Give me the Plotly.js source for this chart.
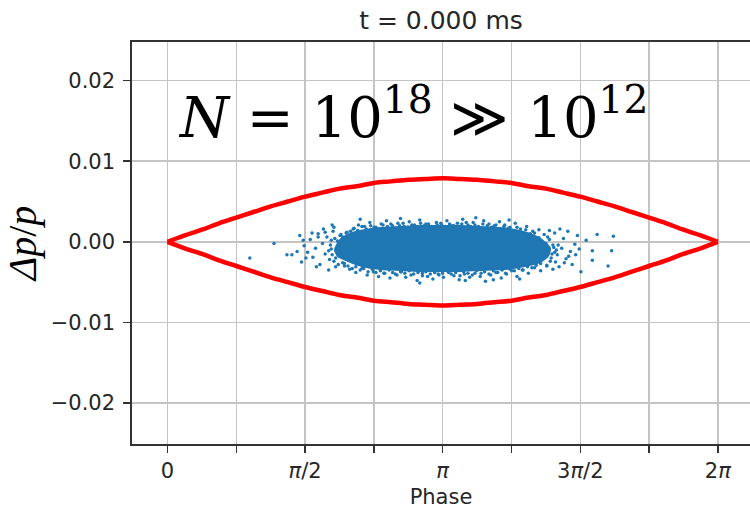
<!DOCTYPE html>
<html>
<head>
<meta charset="utf-8">
<script src="https://cdn.plot.ly/plotly-3.0.1.min.js"></script>
<style>
  html, body { margin: 0; padding: 0; background: #ffffff; }
  #chart { width: 750px; height: 509px; }
</style>
</head>
<body>
<div id="chart"></div>
<script>
// Separatrix of the stationary bucket (phase in rad, Δp/p)
const sepPhase = [0, 0.196, 0.393, 0.589, 0.785, 0.982, 1.178, 1.374, 1.571, 1.767, 1.963,
  2.160, 2.356, 2.553, 2.749, 2.945, 3.142, 3.338, 3.534, 3.731, 3.927, 4.123, 4.320,
  4.516, 4.712, 4.909, 5.105, 5.301, 5.498, 5.694, 5.890, 6.087, 6.283];
const sepUpper = [0, 0.0008, 0.0015, 0.0023, 0.0030, 0.0037, 0.0044, 0.0050, 0.0056, 0.0061,
  0.0066, 0.0069, 0.0073, 0.0075, 0.0077, 0.0078, 0.0079, 0.0078, 0.0077, 0.0075, 0.0073,
  0.0069, 0.0066, 0.0061, 0.0056, 0.0050, 0.0044, 0.0037, 0.0030, 0.0023, 0.0015, 0.0008, 0];
const sepLower = [0, -0.0008, -0.0015, -0.0023, -0.0030, -0.0037, -0.0044, -0.0050, -0.0056, -0.0061,
  -0.0066, -0.0069, -0.0073, -0.0075, -0.0077, -0.0078, -0.0079, -0.0078, -0.0077, -0.0075, -0.0073,
  -0.0069, -0.0066, -0.0061, -0.0056, -0.0050, -0.0044, -0.0037, -0.0030, -0.0023, -0.0015, -0.0008, 0];

// Dense core of the particle distribution (outline)
const coreX = [1.912, 1.969, 2.083, 2.255, 2.426, 2.654, 2.882, 3.111, 3.339, 3.567, 3.796, 3.967,
  4.138, 4.275, 4.366, 4.344, 4.252, 4.081, 3.853, 3.567, 3.339, 3.111, 2.882, 2.654, 2.426,
  2.220, 2.061, 1.946, 1.912];
const coreY = [-0.00102, 0.00022, 0.00097, 0.00146, 0.00171, 0.00184, 0.00196, 0.00196, 0.00196,
  0.00184, 0.00171, 0.00146, 0.00097, 0.00022, -0.00077, -0.00176, -0.00251, -0.00300, -0.00337,
  -0.00350, -0.00362, -0.00362, -0.00362, -0.00350, -0.00337, -0.00300, -0.00238, -0.00176, -0.00102];

// Particles on the ragged rim of the core
const edgeX = [
  2.00, 2.04, 2.09, 2.13, 2.17, 2.22, 2.27, 2.32, 2.36, 2.41, 2.46, 2.51, 2.55, 2.60, 2.65, 2.69,
  2.74, 2.79, 2.84, 2.89, 2.93, 2.98, 3.03, 3.08, 3.12, 3.17, 3.22, 3.27, 3.32, 3.36, 3.41, 3.46,
  3.51, 3.56, 3.60, 3.65, 3.70, 3.75, 3.80, 3.84, 3.89, 3.94, 3.99, 4.04, 4.09, 4.14, 4.19, 4.24,
  2.02, 2.06, 2.11, 2.15, 2.20, 2.24, 2.29, 2.34, 2.38, 2.43, 2.48, 2.53, 2.57, 2.62, 2.67, 2.71,
  2.76, 2.81, 2.86, 2.91, 2.95, 3.00, 3.05, 3.10, 3.14, 3.19, 3.24, 3.29, 3.34, 3.38, 3.43, 3.48,
  3.53, 3.58, 3.62, 3.67, 3.72, 3.77, 3.82, 3.86, 3.91, 3.96, 4.01, 4.06, 4.11, 4.16, 4.21, 4.26,
  1.86, 1.88, 1.90, 1.91, 1.93, 1.95, 1.97, 1.84, 1.87, 1.92,
  4.32, 4.35, 4.38, 4.36, 4.41, 4.39, 4.43, 4.33, 4.46, 4.42
];
const edgeY = [
  0.0006, 0.0011, 0.0013, 0.0017, 0.0014, 0.0019, 0.0016, 0.0020, 0.0018, 0.0015, 0.0021, 0.0019,
  0.0022, 0.0017, 0.0020, 0.0023, 0.0018, 0.0021, 0.0019, 0.0023, 0.0020, 0.0022, 0.0018, 0.0021,
  0.0023, 0.0019, 0.0022, 0.0020, 0.0018, 0.0022, 0.0024, 0.0019, 0.0021, 0.0017, 0.0022, 0.0020,
  0.0018, 0.0021, 0.0016, 0.0019, 0.0017, 0.0014, 0.0018, 0.0012, 0.0015, 0.0010, 0.0011, 0.0005,
  -0.0027, -0.0030, -0.0033, -0.0031, -0.0035, -0.0033, -0.0037, -0.0034, -0.0038, -0.0036, -0.0039,
  -0.0035, -0.0038, -0.0041, -0.0037, -0.0039, -0.0036, -0.0040, -0.0038, -0.0042, -0.0037, -0.0040,
  -0.0038, -0.0041, -0.0039, -0.0036, -0.0040, -0.0038, -0.0042, -0.0037, -0.0039, -0.0041, -0.0036,
  -0.0039, -0.0037, -0.0040, -0.0036, -0.0038, -0.0035, -0.0039, -0.0034, -0.0036, -0.0033, -0.0035,
  -0.0031, -0.0032, -0.0029, -0.0027,
  -0.0004, -0.0016, -0.0024, 0.0004, -0.0010, -0.0028, 0.0008, -0.0011, 0.0002, -0.0020,
  -0.0002, -0.0012, -0.0020, 0.0003, -0.0007, -0.0015, -0.0025, -0.0030, -0.0004, -0.0013
];

// Sparse macro-particles further out
const haloX = [
  2.05, 2.12, 2.18, 2.25, 2.31, 2.38, 2.44, 2.50, 2.57, 2.63, 2.70, 2.76, 2.82, 2.88, 2.95, 3.01,
  3.07, 3.13, 3.19, 3.25, 3.31, 3.37, 3.43, 3.49, 3.55, 3.61, 3.67, 3.73, 3.79, 3.85, 3.91, 3.97,
  4.03, 4.10, 4.17, 4.24, 4.30, 2.20, 3.52, 3.90, 2.66,
  2.02, 2.08, 2.15, 2.22, 2.28, 2.35, 2.41, 2.47, 2.54, 2.60, 2.66, 2.72, 2.78, 2.85, 2.91, 2.97,
  3.03, 3.09, 3.15, 3.21, 3.27, 3.33, 3.39, 3.45, 3.51, 3.57, 3.63, 3.69, 3.75, 3.81, 3.87, 3.93,
  3.99, 4.05, 4.12, 4.19, 4.26, 4.33, 2.88, 3.40, 3.72, 4.02,
  1.51, 1.53, 1.56, 1.60, 1.63, 1.66, 1.69, 1.72, 1.74, 1.77, 1.80, 1.82, 1.85, 1.87, 1.89, 1.92,
  1.94, 1.96, 1.98, 2.00, 1.58, 1.70, 1.78, 1.65, 1.84, 1.90, 1.48, 1.55, 1.88, 1.80, 1.72,
  0.94, 1.216, 1.364, 1.42,
  4.34, 4.37, 4.40, 4.42, 4.45, 4.47, 4.50, 4.52, 4.55, 4.57, 4.60, 4.62, 4.65, 4.68, 4.40, 4.48,
  4.58, 4.44, 4.53, 4.36,
  4.66, 4.70, 4.72, 4.78, 4.85, 4.85, 4.905, 5.03, 5.07, 5.09
];
const haloY = [
  0.0012, 0.0016, 0.0021, 0.0019, 0.0024, 0.0018, 0.0022, 0.0026, 0.0020, 0.0023, 0.0019, 0.0025,
  0.0021, 0.0027, 0.0022, 0.0019, 0.0024, 0.0021, 0.0026, 0.0020, 0.0023, 0.0028, 0.0021, 0.0024,
  0.0019, 0.0026, 0.0022, 0.0020, 0.0025, 0.0021, 0.0018, 0.0023, 0.0016, 0.0019, 0.0013, 0.0015,
  0.0009, 0.0028, 0.0030, 0.0027, 0.0029,
  -0.0030, -0.0034, -0.0038, -0.0033, -0.0041, -0.0037, -0.0043, -0.0039, -0.0045, -0.0040, -0.0037,
  -0.0044, -0.0041, -0.0048, -0.0039, -0.0043, -0.0046, -0.0040, -0.0044, -0.0038, -0.0042, -0.0047,
  -0.0040, -0.0044, -0.0039, -0.0043, -0.0049, -0.0041, -0.0038, -0.0045, -0.0040, -0.0036, -0.0043,
  -0.0035, -0.0039, -0.0032, -0.0036, -0.0029, -0.0051, -0.0048, -0.0047, -0.0046,
  0.0008, -0.0025, -0.0005, -0.0013, 0.0003, -0.0019, -0.0008, 0.0010, -0.0028, -0.0002, -0.0015,
  0.0006, -0.0022, -0.0009, 0.0013, -0.0031, 0.0001, -0.0018, 0.0009, -0.0026, -0.0020, -0.0031,
  0.0016, 0.0011, -0.0035, 0.0018, -0.0012, 0.0002, 0.0021, 0.0012, 0.0006,
  -0.0020, -0.0002, -0.0016, -0.0016,
  0.0006, -0.0024, -0.0004, 0.0011, -0.0016, -0.0031, -0.0008, 0.0004, -0.0021, 0.0013, -0.0012,
  -0.0028, -0.0003, 0.0008, -0.0034, 0.0016, -0.0018, -0.0010, -0.0026, 0.0014,
  -0.0016, -0.0009, -0.0037, 0.0002, -0.0011, -0.0023, 0.0009, -0.0030, -0.0011, 0.0007
];

// Axis ticks: labelled every π/2, unlabelled minor ticks in between
const phaseTickVals = [0, 1.5708, 3.1416, 4.7124, 6.2832];
const phaseTickText = ["0", "<i>π</i>/2", "<i>π</i>", "3<i>π</i>/2", "2<i>π</i>"];
const phaseMinorVals = [0.7854, 2.3562, 3.9270, 5.4978];
const dpTickVals = [-0.02, -0.01, 0, 0.01, 0.02];
const dpTickText = ["−0.02", "−0.01", "0.00", "0.01", "0.02"];

const blue = "#1f77b4";
const tickFont = { family: "DejaVu Sans", size: 21, color: "#262626" };
const gridColor = "#c4c4c4";

const traces = [
  {
    x: coreX, y: coreY, type: "scatter", mode: "lines",
    fill: "toself", fillcolor: blue,
    line: { color: blue, width: 2, shape: "spline", smoothing: 0.6 },
    hoverinfo: "skip", showlegend: false
  },
  {
    x: edgeX, y: edgeY, type: "scatter", mode: "markers",
    marker: { color: blue, size: 3.5, line: { width: 0 } },
    showlegend: false
  },
  {
    x: haloX, y: haloY, type: "scatter", mode: "markers",
    marker: { color: blue, size: 3.5, line: { width: 0 } },
    showlegend: false
  },
  {
    x: sepPhase, y: sepUpper, type: "scatter", mode: "lines",
    line: { color: "#ff0000", width: 4.5, shape: "spline" },
    showlegend: false
  },
  {
    x: sepPhase, y: sepLower, type: "scatter", mode: "lines",
    line: { color: "#ff0000", width: 4.5, shape: "spline" },
    showlegend: false
  }
];

const layout = {
  width: 750, height: 509,
  margin: { l: 132, r: 0, t: 42, b: 65 },
  paper_bgcolor: "#ffffff",
  plot_bgcolor: "#ffffff",
  showlegend: false,
  title: {
    text: "t = 0.000 ms",
    font: { family: "DejaVu Sans", size: 25, color: "#262626" },
    x: 0.5, xref: "paper", xanchor: "center",
    y: 1 - 20 / 509, yref: "container", yanchor: "middle"
  },
  xaxis: {
    range: [-0.405, 6.650],
    tickmode: "array", tickvals: phaseTickVals, ticktext: phaseTickText,
    tickfont: tickFont,
    ticks: "outside", ticklen: 7, tickwidth: 1.5, tickcolor: "#333333",
    showgrid: true, gridcolor: gridColor, gridwidth: 1.5,
    minor: {
      tickmode: "array", tickvals: phaseMinorVals,
      ticks: "outside", ticklen: 7, tickwidth: 1.5, tickcolor: "#333333",
      showgrid: true, gridcolor: gridColor, gridwidth: 1.5
    },
    zeroline: false,
    showline: true, linecolor: "#333333", linewidth: 1.7, mirror: true,
    title: { text: "Phase", font: { family: "DejaVu Sans", size: 21, color: "#262626" }, standoff: 8 },
    automargin: false
  },
  yaxis: {
    range: [-0.02508, 0.02479],
    tickmode: "array", tickvals: dpTickVals, ticktext: dpTickText,
    tickfont: tickFont,
    ticks: "outside", ticklen: 7, tickwidth: 1.5, tickcolor: "#333333",
    ticklabelstandoff: 4,
    showgrid: true, gridcolor: gridColor, gridwidth: 1.5,
    zeroline: false,
    showline: true, linecolor: "#333333", linewidth: 1.7, mirror: false,
    title: { text: "<i>Δp</i>/<i>p</i>", font: { family: "Liberation Serif", size: 40, color: "#000000" }, standoff: 12 },
    automargin: false
  },
  annotations: [
    {
      text: "<i>N</i> = 10<sup>18</sup> ≫ 10<sup>12</sup>",
      xref: "paper", yref: "paper",
      x: (176 - 132) / 618, y: (444 - 152) / 402,
      xanchor: "left", yanchor: "bottom",
      showarrow: false,
      font: { family: "DejaVu Serif", size: 56, color: "#000000" }
    }
  ]
};

Plotly.newPlot("chart", traces, layout, { displayModeBar: false, staticPlot: true });
</script>
</body>
</html>
